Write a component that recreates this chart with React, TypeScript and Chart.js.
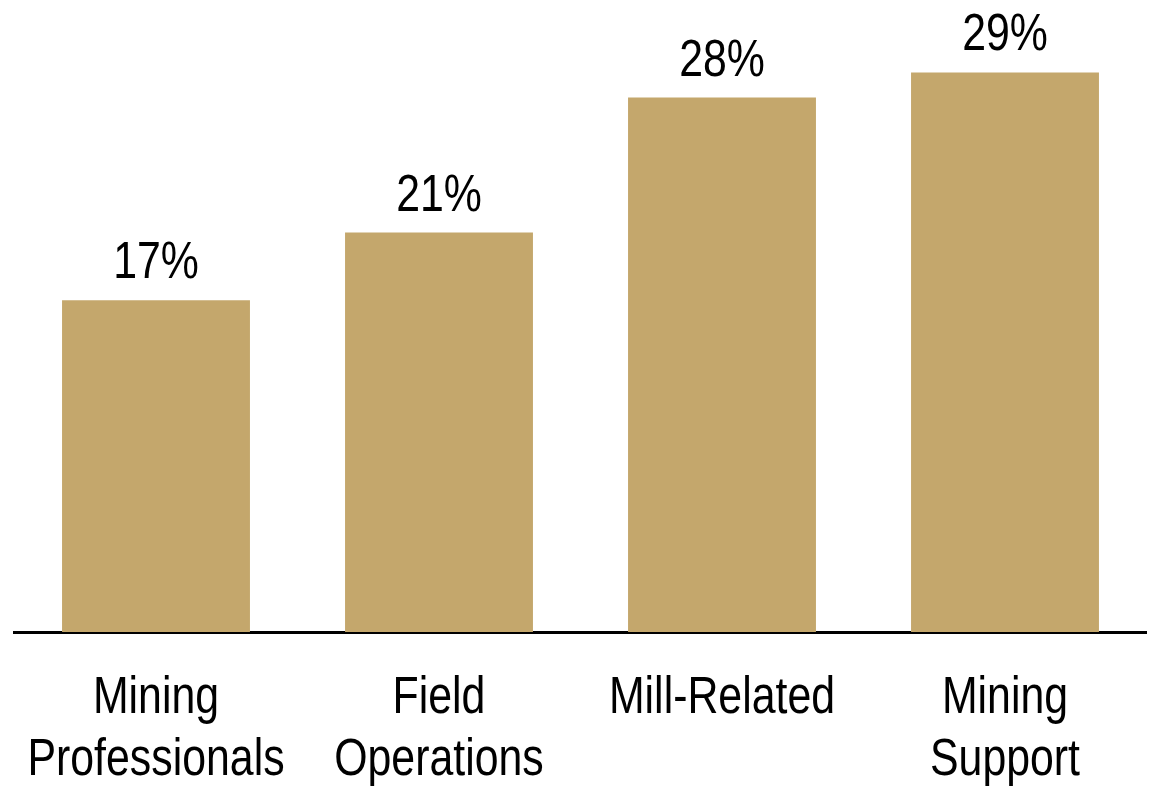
import React, { useEffect, useRef } from "react";
import { Chart, registerables } from "chart.js";

Chart.register(...registerables);

const categories: string[][] = [
  ["Mining", "Professionals"],
  ["Field", "Operations"],
  ["Mill-Related"],
  ["Mining", "Support"],
];
const shares: number[] = [17.2, 20.7, 27.7, 29.0];
const barColor = "#C4A76C";
const FONT = "'Liberation Sans', Arial, sans-serif";
const FONT_SIZE = 51;
const NARROW = 0.84;

function drawNarrow(ctx: CanvasRenderingContext2D, text: string, x: number, y: number) {
  ctx.save();
  ctx.translate(x, y);
  ctx.scale(NARROW, 1);
  ctx.fillText(text, 0, 0);
  ctx.restore();
}

const textLabels = {
  id: "textLabels",
  afterDraw(chart: any) {
    const ctx = chart.ctx as CanvasRenderingContext2D;
    const meta = chart.getDatasetMeta(0);
    const xScale = chart.scales.x;
    const bottom = chart.chartArea.bottom;
    ctx.save();
    ctx.font = `${FONT_SIZE}px ${FONT}`;
    ctx.fillStyle = "#000";
    ctx.textAlign = "center";
    ctx.textBaseline = "alphabetic";
    meta.data.forEach((bar: any, i: number) => {
      drawNarrow(ctx, `${Math.round(shares[i])}%`, bar.x, bar.y - 22);
    });
    categories.forEach((lines, i) => {
      const x = xScale.getPixelForTick(i);
      lines.forEach((line, j) => {
        drawNarrow(ctx, line, x, bottom + 81 + j * 62);
      });
    });
    ctx.restore();
  },
};

export default function App() {
  const ref = useRef<HTMLCanvasElement | null>(null);
  useEffect(() => {
    if (!ref.current) return;
    const chart = new Chart(ref.current, {
      type: "bar",
      data: {
        labels: categories.map((l) => l.join(" ")),
        datasets: [
          {
            data: shares,
            backgroundColor: barColor,
            borderWidth: 0,
            barPercentage: 0.664,
            categoryPercentage: 1,
          },
        ],
      },
      options: {
        animation: false,
        responsive: true,
        maintainAspectRatio: false,
        layout: { padding: { left: 14.5, right: 3.5, top: 3, bottom: 0 } },
        plugins: {
          legend: { display: false },
          tooltip: { enabled: false },
          title: { display: false },
        },
        scales: {
          x: {
            z: 1,
            grid: { display: false, drawTicks: false },
            border: { display: true, color: "#000", width: 3 },
            ticks: { display: false },
            afterFit: (scale: any) => {
              scale.height = 154;
            },
          },
          y: {
            display: false,
            min: 0,
            max: 32.6,
          },
        },
      },
      plugins: [textLabels],
    });
    return () => chart.destroy();
  }, []);
  return (
    <div style={{ position: "absolute", left: 0, top: 0, width: 1150, height: 786, background: "#fff" }}>
      <canvas ref={ref} />
    </div>
  );
}
